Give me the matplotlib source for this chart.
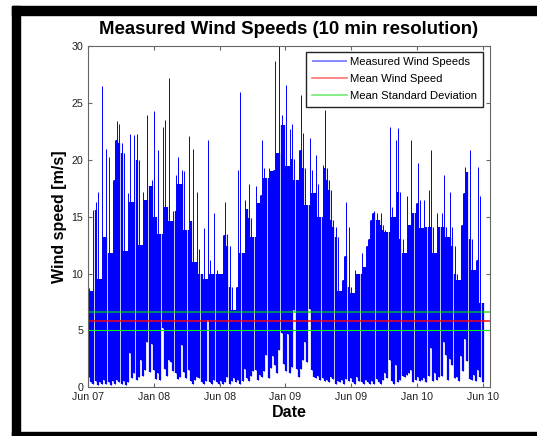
import matplotlib
matplotlib.use("Agg")
import matplotlib.pyplot as plt
from matplotlib.patches import Rectangle

plt.rcParams['font.family'] = ['Liberation Sans', 'DejaVu Sans']

# Wind speed record, summarised per 6-day block: highest and lowest 10-min value
bin_days = 6.0
speed_max = [
    8.7, 8.5, 15.6, 16.3, 17.2, 9.5, 26.5, 13.2, 21.0, 20.3,
    11.8, 18.2, 21.8, 23.4, 23.2, 21.5, 20.6, 12.0, 17.1, 22.3,
    16.3, 22.2, 22.3, 20.0, 12.5, 17.2, 16.5, 24.0, 17.7, 18.2,
    24.3, 15.0, 20.9, 13.5, 22.9, 23.5, 15.9, 27.2, 14.6, 15.5,
    18.7, 20.3, 17.9, 19.1, 19.0, 13.8, 22.1, 14.6, 21.0, 11.0,
    17.2, 12.2, 10.0, 14.0, 9.5, 21.8, 11.2, 10.0, 15.3, 10.3,
    10.0, 10.0, 13.4, 16.3, 13.5, 12.4, 8.8, 6.8, 8.8, 19.1,
    26.0, 11.8, 16.5, 15.7, 17.9, 14.9, 13.2, 17.7, 16.2, 16.9,
    21.8, 19.3, 18.4, 19.3, 19.0, 19.1, 28.7, 20.6, 30.5, 24.0,
    23.1, 26.6, 19.5, 22.7, 23.2, 20.1, 18.2, 20.9, 25.7, 22.4,
    19.3, 16.0, 21.9, 19.1, 17.1, 20.4, 17.9, 15.0, 19.6, 24.4,
    19.3, 18.2, 17.4, 14.7, 14.1, 13.2, 8.5, 9.4, 11.5, 16.3,
    14.1, 8.8, 8.3, 10.3, 10.0, 10.0, 11.8, 10.6, 12.4, 13.0,
    14.7, 15.3, 15.5, 15.3, 14.7, 15.3, 14.3, 13.8, 13.7, 22.9,
    15.9, 15.0, 21.8, 22.8, 17.2, 13.0, 11.8, 16.8, 14.3, 21.8,
    15.3, 16.2, 19.7, 16.5, 14.0, 16.5, 14.1, 17.4, 20.9, 14.1,
    11.8, 15.3, 14.1, 15.3, 18.7, 14.1, 13.2, 17.2, 14.1, 12.4,
    10.0, 9.4, 14.3, 17.1, 19.4, 18.9, 20.9, 13.0, 10.3, 11.2,
    19.4, 16.8, 7.4,
]
speed_min = [
    0.9, 0.4, 0.3, 0.5, 0.2, 0.4, 0.3, 0.6, 0.3, 0.4,
    0.2, 0.5, 0.3, 0.6, 0.4, 0.3, 0.5, 0.2, 0.4, 3.0,
    0.8, 1.2, 0.6, 0.9, 2.4, 1.0, 1.5, 4.0, 1.3, 3.8,
    1.5, 0.7, 1.2, 0.6, 5.2, 1.6, 1.0, 2.4, 2.2, 1.4,
    1.2, 0.7, 0.9, 3.7, 1.3, 0.8, 1.5, 0.5, 0.3, 0.6,
    0.9, 0.8, 0.4, 0.3, 0.5, 5.9, 0.4, 0.3, 0.6, 0.4,
    0.3, 0.5, 0.3, 0.4, 0.9, 0.3, 0.5, 0.8, 0.4, 0.6,
    0.3, 0.5, 1.6, 0.8, 0.5, 1.0, 1.4, 1.5, 0.6, 1.1,
    0.9, 1.4, 2.8, 0.8, 1.7, 2.7, 1.9, 1.2, 3.3, 4.8,
    2.0, 1.4, 4.7, 1.2, 1.8, 6.8, 1.6, 0.9, 1.6, 2.4,
    4.0, 2.2, 6.9, 1.5, 0.9, 0.8, 1.0, 0.6, 0.8, 0.5,
    0.6, 0.4, 0.9, 0.7, 0.3, 0.5, 0.4, 0.6, 0.3, 0.7,
    0.5, 0.8, 0.4, 0.3, 0.9, 0.5, 0.4, 0.3, 0.6, 0.4,
    0.3, 0.5, 0.3, 0.7, 0.4, 0.3, 0.6, 1.2, 0.8, 2.4,
    0.5, 0.3, 1.9, 0.4, 0.6, 1.0, 0.9, 1.1, 1.2, 1.5,
    0.4, 0.6, 0.9, 0.5, 0.6, 0.8, 0.4, 1.0, 3.4, 0.5,
    1.2, 0.6, 0.9, 1.0, 4.0, 2.8, 0.6, 2.5, 1.9, 0.8,
    0.9, 0.5, 2.7, 1.4, 4.2, 2.3, 0.7, 0.6, 1.1, 0.5,
    1.5, 0.9, 0.4,
]

mean_speed = 5.82
std_band = 0.78

tick_step_days = 182.67
tick_labels = ['Jun 07', 'Jan 08', 'Jun 08', 'Jan 09', 'Jun 09', 'Jan 10', 'Jun 10']

# centre of each 6-day block, in days since the start of the record
n = len(speed_max)
block_days = [i * bin_days + bin_days / 2 for i in range(n)]
# the trace is drawn solid up to the height that the neighbouring blocks
# also reach; above that only the isolated gust peak remains
block_solid = [min(speed_max[max(i - 1, 0):i + 2]) for i in range(n)]

W, H = 537, 436
fig = plt.figure(figsize=(W / 100, H / 100), dpi=100)
fig.patch.set_facecolor('white')

ax = fig.add_axes([88 / W, (H - 387) / H, 402 / W, 340.5 / H])

ax.vlines(block_days, speed_min, block_solid, color='#0000ff', lw=1.62)
ln_data = ax.vlines(block_days, speed_min, speed_max, color='#0000ff',
                    lw=0.7, label='Measured Wind Speeds')
ln_mean = ax.axhline(mean_speed, color='#ff0000', lw=1.3, alpha=0.8,
                     label='Mean Wind Speed')
ln_std = ax.axhline(mean_speed + std_band, color='#00dd00', lw=1.5, alpha=0.6,
                    label='Mean Standard Deviation')
ax.axhline(mean_speed - std_band, color='#00ff00', lw=0.8)

ax.set_xlim(0, 1115.5)
ax.set_ylim(0, 30)
ax.set_xticks([k * tick_step_days for k in range(len(tick_labels))])
ax.set_xticklabels(tick_labels)
ax.set_yticks(range(0, 31, 5))

ax.tick_params(direction='in', top=True, right=True, length=3, width=0.8,
               colors='#666666', labelcolor='#222222', labelsize=7.7, pad=3.5)
for sp in ax.spines.values():
    sp.set_color('#666666')
    sp.set_linewidth(0.8)

ax.set_title('Measured Wind Speeds (10 min resolution)', fontsize=13.4,
             fontweight='bold', pad=9)
ax.set_xlabel('Date', fontsize=11.5, fontweight='bold', labelpad=2)
ax.set_ylabel('Wind speed [m/s]', fontsize=11.5, fontweight='bold', labelpad=3)

leg = ax.legend(handles=[ln_data, ln_mean, ln_std], loc='upper right',
                bbox_to_anchor=(0.9826, 0.9847), borderaxespad=0,
                fontsize=8.1, fancybox=False, framealpha=1,
                edgecolor='#222222', handlelength=3.15, handletextpad=0.3,
                labelspacing=0.62, borderpad=0.5)
leg.get_frame().set_linewidth(1.0)
for h in leg.legend_handles:
    h.set_alpha(0.55)
    h.set_linewidth(1.2)

# thick black border around the figure
for (x0, y0, w, h) in [(12, 0, 8, 430), (12, 421, W - 12, 9), (12, 0, W - 12, 4.3)]:
    fig.patches.append(Rectangle((x0 / W, y0 / H), w / W, h / H,
                                 transform=fig.transFigure, color='black',
                                 zorder=10))

fig.savefig('out.png', dpi=100)
